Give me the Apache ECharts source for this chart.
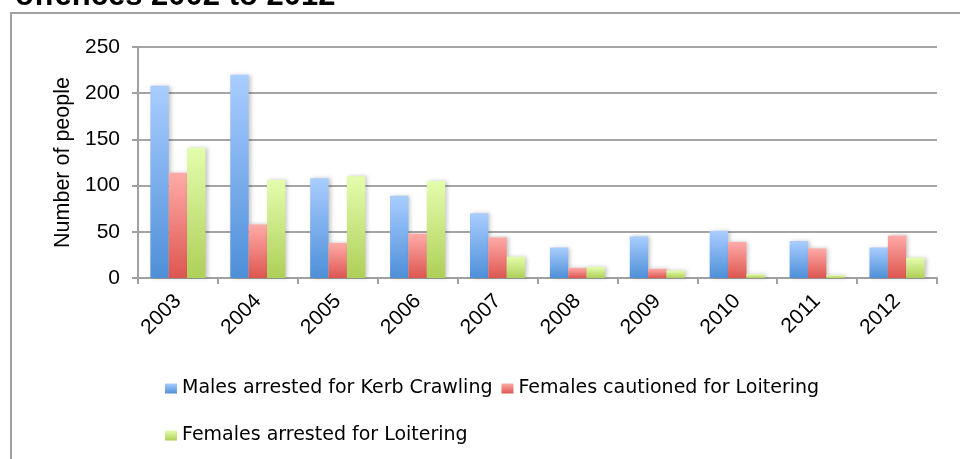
<!DOCTYPE html>
<html>
<head>
<meta charset="utf-8">
<script src="https://cdn.jsdelivr.net/npm/echarts@6/dist/echarts.min.js"></script>
<style>
html,body{margin:0;padding:0;background:#fff;}
#chart{width:960px;height:459px;}
</style>
</head>
<body>
<div id="chart"></div>
<script>
var years = ['2003','2004','2005','2006','2007','2008','2009','2010','2011','2012'];
var malesArrestedKerb = [208, 220, 108, 89, 70, 33, 45, 51, 40, 33];
var femalesCautionedLoitering = [114, 58, 38, 48, 44, 11, 10, 39, 32, 46];
var femalesArrestedLoitering = [141, 106, 110, 105, 23, 12, 8, 4, 3, 22];
var seriesNames = ['Males arrested for Kerb Crawling', 'Females cautioned for Loitering', 'Females arrested for Loitering'];
var yTicks = [0, 50, 100, 150, 200, 250];
var titleText = 'offences 2002 to 2012';

var FONT = '"Liberation Sans", Arial, sans-serif';
var LEGEND_FONT = '"DejaVu Sans", sans-serif';
function grad(top, bottom) {
  return new echarts.graphic.LinearGradient(0, 0, 0, 1, [
    {offset: 0, color: top}, {offset: 1, color: bottom}
  ]);
}
var colors = [grad('#a9cdff', '#4e8fd8'), grad('#ffaba8', '#dd5650'), grad('#e4fdad', '#aecf58')];
var legendColors = [grad('#a9cdff', '#4e8fd8'), grad('#ffaba8', '#dd5650'), grad('#e4fdad', '#aecf58')];

var chart = echarts.init(document.getElementById('chart'), null, {renderer: 'canvas'});
function mkSeries(i, data) {
  return {
    name: seriesNames[i], type: 'bar', data: data,
    barGap: '0%', barCategoryGap: '31%',
    itemStyle: {color: colors[i], shadowColor: 'rgba(0,0,0,0.22)', shadowBlur: 4, shadowOffsetX: 2, shadowOffsetY: 0},
    emphasis: {disabled: true}
  };
}
var legendBase = {
  orient: 'horizontal', itemWidth: 12, itemHeight: 10, itemGap: 9, padding: 0,
  icon: 'rect', textStyle: {fontFamily: LEGEND_FONT, fontSize: 19, color: '#000'},
  selectedMode: false
};
chart.setOption({
  animation: false,
  grid: {left: 138, right: 23, top: 47, bottom: 181, containLabel: false},
  graphic: [
    {type: 'rect', shape: {x: 11, y: 13, width: 1000, height: 1000}, style: {fill: 'none', stroke: '#a0a0a0', lineWidth: 2}, silent: true, z: -1},
    {type: 'text', x: 15, y: 12, style: {text: titleText, font: 'bold 31px ' + FONT, fill: '#000', verticalAlign: 'bottom', align: 'left'}, silent: true}
  ],
  legend: [
    Object.assign({}, legendBase, {left: 165, top: 379, data: [
      {name: seriesNames[0], itemStyle: {color: legendColors[0]}},
      {name: seriesNames[1], itemStyle: {color: legendColors[1]}}
    ]}),
    Object.assign({}, legendBase, {left: 165, top: 426, data: [
      {name: seriesNames[2], itemStyle: {color: legendColors[2]}}
    ]})
  ],
  xAxis: {
    type: 'category', data: years,
    axisLine: {lineStyle: {color: '#a0a0a0', width: 2}},
    axisTick: {show: true, length: 6, lineStyle: {color: '#a0a0a0', width: 2}},
    axisLabel: {rotate: 45, margin: 20, fontFamily: FONT, fontSize: 21, color: '#000'}
  },
  yAxis: {
    type: 'value', min: yTicks[0], max: yTicks[yTicks.length-1], interval: yTicks[1]-yTicks[0],
    name: 'Number of people', nameLocation: 'middle', nameRotate: 90, nameGap: 64,
    nameTextStyle: {fontFamily: FONT, fontSize: 21.5, color: '#000'},
    axisLine: {show: true, lineStyle: {color: '#a0a0a0', width: 2}},
    axisTick: {show: true, length: 6, lineStyle: {color: '#a0a0a0', width: 2}},
    axisLabel: {margin: 18, fontFamily: FONT, fontSize: 21, color: '#000'},
    splitLine: {show: true, lineStyle: {color: '#a5a5a5', width: 2}}
  },
  series: [
    mkSeries(0, malesArrestedKerb),
    mkSeries(1, femalesCautionedLoitering),
    mkSeries(2, femalesArrestedLoitering)
  ]
});
</script>
</body>
</html>
